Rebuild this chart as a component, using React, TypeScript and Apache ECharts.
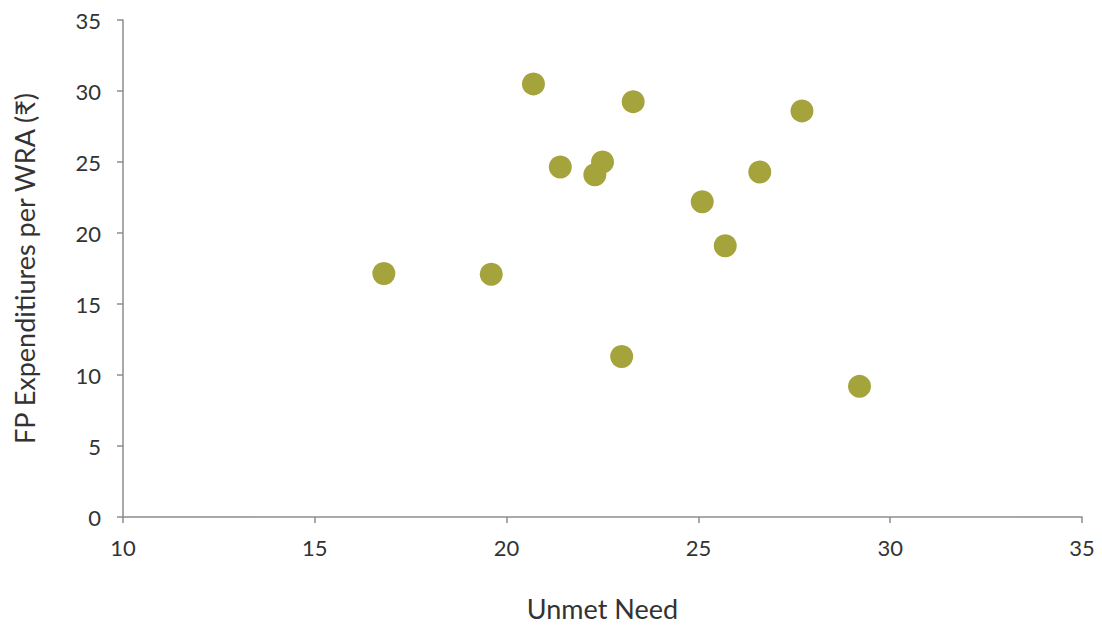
import React, { useEffect, useRef } from "react";
import * as echarts from "echarts";

const unmetNeed = [16.8, 19.6, 20.7, 21.4, 22.3, 22.5, 23.0, 23.3, 25.1, 25.7, 26.6, 27.7, 29.2];
const fpExpenditure = [17.15, 17.1, 30.5, 24.65, 24.1, 25.0, 11.3, 29.25, 22.2, 19.1, 24.3, 28.6, 9.2];
const xTicks = { min: 10, max: 35, interval: 5 };
const yTicks = { min: 0, max: 35, interval: 5 };
const xName = "Unmet Need";
const yName = "FP Expenditiures per WRA (₹)";

export default function App() {
  const ref = useRef<HTMLDivElement>(null);
  useEffect(() => {
    const chart = echarts.init(ref.current!, null, { renderer: "svg" });
    const font = "Lato, 'Noto Sans', 'DejaVu Sans', sans-serif";
    const axisLine = { lineStyle: { color: "#8c8c8c", width: 1.5 } };
    chart.setOption({
      animation: false,
      textStyle: { fontFamily: font },
      grid: { left: 123, right: 20, top: 20, bottom: 109, outerBoundsMode: "none", containLabel: false },
      xAxis: {
        type: "value",
        ...xTicks,
        name: xName,
        nameLocation: "middle",
        nameGap: 78,
        nameTextStyle: { fontSize: 27, color: "#333", fontFamily: font },
        axisLine,
        axisTick: { show: true, length: 6, lineStyle: { color: "#8c8c8c", width: 1.5 } },
        axisLabel: { fontSize: 22, color: "#333", margin: 19, fontFamily: font },
        splitLine: { show: false },
      },
      yAxis: {
        type: "value",
        ...yTicks,
        name: yName,
        nameLocation: "middle",
        nameGap: 85,
        nameRotate: 90,
        nameTextStyle: { fontSize: 27, color: "#333", fontFamily: font },
        axisLine: { show: true, ...axisLine },
        axisTick: { show: true, length: 6, lineStyle: { color: "#8c8c8c", width: 1.5 } },
        axisLabel: { fontSize: 22, color: "#333", margin: 22, fontFamily: font },
        splitLine: { show: false },
      },
      series: [
        {
          type: "scatter",
          symbolSize: 23,
          itemStyle: { color: "#a5a33b", opacity: 1 },
          data: unmetNeed.map((x, i) => [x, fpExpenditure[i]]),
        },
      ],
    });
    return () => chart.dispose();
  }, []);
  return <div ref={ref} style={{ width: 1102, height: 626, position: "absolute", left: 0, top: 0 }} />;
}
